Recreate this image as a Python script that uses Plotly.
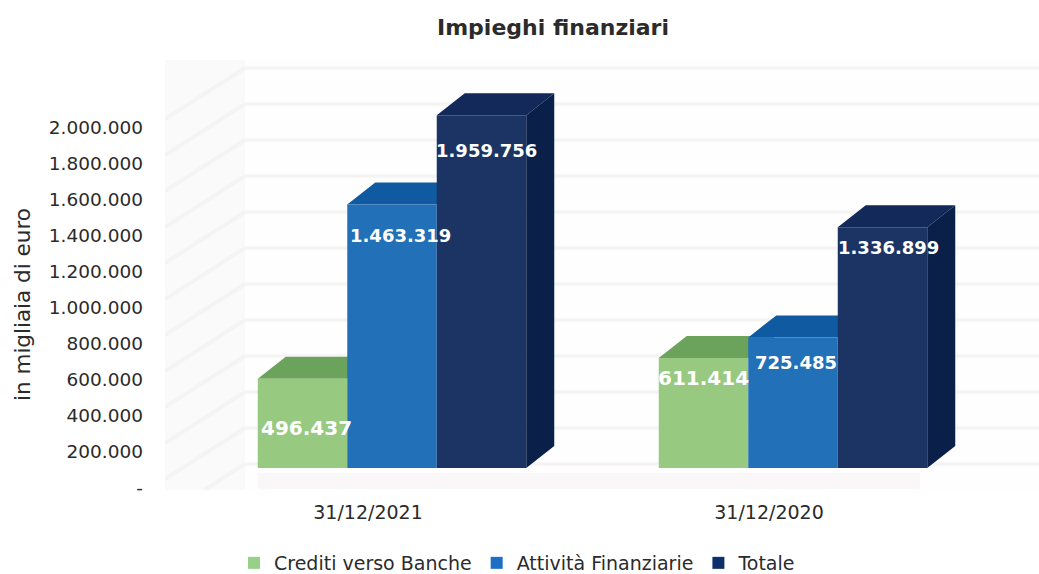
import plotly.graph_objects as go

# ---- data ----
CATEGORIES = ["31/12/2021", "31/12/2020"]
SERIES_NAMES = ["Crediti verso Banche", "Attività Finanziarie", "Totale"]
CREDITI = [496437, 611414]
ATTIVITA = [1463319, 725485]
TOTALE = [1959756, 1336899]
TICK_VALUES = [0, 200000, 400000, 600000, 800000, 1000000, 1200000,
               1400000, 1600000, 1800000, 2000000]
TICK_LABELS = ["-", "200.000", "400.000", "600.000", "800.000", "1.000.000",
               "1.200.000", "1.400.000", "1.600.000", "1.800.000", "2.000.000"]
WALL_VALUES = TICK_VALUES + [2200000]
Y_TITLE = "in migliaia di euro"

# ---- styles ----
FRONT = ["#97c981", "#2270b8", "#1c3464"]
TOP = ["#6ca35c", "#0f5aa0", "#12295a"]
SIDE = "#0b2048"
LEGEND = ["#97d088", "#1c6fc4", "#0d2f6b"]
TEXT = "#2b2b2b"
FONT = "DejaVu Sans"

FIG_W, FIG_H = 1039, 574
# pixel scale of the plot area, used to express the fake-3D depth
PLOT_L, PLOT_R, PLOT_T, PLOT_B = 165, 1039, 60, 490
ZERO_PX = 488
PX_PER_UNIT_X = 401.0
PX_PER_UNIT_Y = 18.0 / 100000
X_ZERO_PX = 368.0
BAR_W = 89.5 / PX_PER_UNIT_X
GROUP_SHIFT = 24 / PX_PER_UNIT_X
DEPTH_X = 28 / PX_PER_UNIT_X
DEPTH_Y = 22 / PX_PER_UNIT_Y
WALL_DY = 24 / PX_PER_UNIT_Y
BASE = 20 / PX_PER_UNIT_Y
FLOOR_Y = 7 / PX_PER_UNIT_Y
WALL_X = (245 - X_ZERO_PX) / PX_PER_UNIT_X
LEFT_X = (PLOT_L - X_ZERO_PX) / PX_PER_UNIT_X
RIGHT_X = (PLOT_R - X_ZERO_PX) / PX_PER_UNIT_X
Y_BOTTOM = (ZERO_PX - PLOT_B) / PX_PER_UNIT_Y
Y_TOP = (ZERO_PX - PLOT_T) / PX_PER_UNIT_Y
# label nudges in px, [series][category]: (dx, drop below bar top)
LABEL_NUDGE = [[(4, 49), (0, 20)], [(8, 31), (3, 25)], [(5, 35), (6, 20)]]
LABEL_SIZE = [20, 18, 18]

fig = go.Figure()

# floor and back wall
GRID = "#f6f3f3"
floor_x = [LEFT_X + 93 / PX_PER_UNIT_X, RIGHT_X - 119 / PX_PER_UNIT_X]
fig.add_trace(go.Scatter(x=[WALL_X, RIGHT_X, RIGHT_X, WALL_X, WALL_X],
                         y=[Y_TOP, Y_TOP, Y_BOTTOM, Y_BOTTOM, Y_TOP],
                         mode="lines", fill="toself", fillcolor="#fefefe",
                         line=dict(width=0), showlegend=False, hoverinfo="skip", zorder=0))
wx, wy = [], []
dx, dy = [], []
slope = 51 / PX_PER_UNIT_Y
for v in WALL_VALUES:
    back = v + WALL_DY
    wx += [WALL_X, RIGHT_X, None]
    wy += [back, back, None]
    front = max(back - slope, Y_BOTTOM)
    frac = (back - front) / slope
    dx += [WALL_X - (WALL_X - LEFT_X) * frac, WALL_X, None]
    dy += [front, back, None]
fig.add_trace(go.Scatter(x=wx, y=wy, mode="lines", line=dict(color=GRID, width=3.5),
                         showlegend=False, hoverinfo="skip", zorder=0))
fig.add_trace(go.Scatter(x=dx, y=dy, mode="lines", line=dict(color="#f5f3f3", width=4),
                         showlegend=False, hoverinfo="skip", zorder=0))
fig.add_trace(go.Scatter(x=floor_x, y=[FLOOR_Y, FLOOR_Y], mode="lines",
                         line=dict(color="#f9f7f7", width=16),
                         showlegend=False, hoverinfo="skip", zorder=0))

series = [CREDITI, ATTIVITA, TOTALE]
annotations = []
for s, values in enumerate(series):
    centers = [i + GROUP_SHIFT + (s - 1) * BAR_W for i in range(len(CATEGORIES))]
    # top face
    tx, ty = [], []
    for c, v in zip(centers, values):
        l, r = c - BAR_W / 2, c + BAR_W / 2
        t = v + BASE
        tx += [l, r, r + DEPTH_X, l + DEPTH_X, l, None]
        ty += [t, t, t + DEPTH_Y, t + DEPTH_Y, t, None]
    fig.add_trace(go.Scatter(x=tx, y=ty, mode="lines", fill="toself", fillcolor=TOP[s],
                             line=dict(width=0), showlegend=False, hoverinfo="skip",
                             zorder=1 + 2 * s))
    # side face, only the rear series shows it
    if s == 2:
        sx, sy = [], []
        for c, v in zip(centers, values):
            r = c + BAR_W / 2
            t = v + BASE
            sx += [r, r + DEPTH_X, r + DEPTH_X, r, r, None]
            sy += [BASE, BASE + DEPTH_Y, t + DEPTH_Y, t, BASE, None]
        fig.add_trace(go.Scatter(x=sx, y=sy, mode="lines", fill="toself", fillcolor=SIDE,
                                 line=dict(width=0), showlegend=False, hoverinfo="skip",
                                 zorder=1 + 2 * s))
    # front face
    fig.add_trace(go.Bar(x=centers, y=values, base=BASE, width=BAR_W, name=SERIES_NAMES[s],
                         marker=dict(color=FRONT[s], line=dict(width=0)),
                         showlegend=False, zorder=2 + 2 * s))
    # legend entry
    fig.add_trace(go.Bar(x=[None], y=[None], name=SERIES_NAMES[s],
                         marker=dict(color=LEGEND[s], line=dict(width=0))))
    for i, (c, v) in enumerate(zip(centers, values)):
        ox, drop = LABEL_NUDGE[s][i]
        annotations.append(dict(x=c, y=v + BASE, xshift=ox, yshift=-drop, showarrow=False,
                                text=f"{v:,}".replace(",", "."), yanchor="middle",
                                font=dict(family=FONT, size=LABEL_SIZE[s], color="white", weight="bold")))

# axis title, set low against the plot as in the reference
annotations.append(dict(text=Y_TITLE, textangle=-90, showarrow=False, xref="paper", yref="paper",
                        x=(22 - PLOT_L) / (PLOT_R - PLOT_L), xanchor="center",
                        y=(PLOT_B - 305) / (PLOT_B - PLOT_T), yanchor="middle",
                        font=dict(family=FONT, size=21.5, color=TEXT)))

fig.update_layout(
    width=FIG_W, height=FIG_H,
    margin=dict(l=PLOT_L, r=FIG_W - PLOT_R, t=PLOT_T, b=FIG_H - PLOT_B, autoexpand=False),
    paper_bgcolor="white", plot_bgcolor="#fafafa",
    barmode="overlay",
    font=dict(family=FONT, color=TEXT),
    title=dict(text="<b>Impieghi finanziari</b>", x=553 / FIG_W, xanchor="center",
               y=1 - 27 / FIG_H, yanchor="middle", font=dict(family=FONT, size=22, color=TEXT)),
    xaxis=dict(range=[LEFT_X, RIGHT_X], tickvals=list(range(len(CATEGORIES))), ticktext=CATEGORIES,
               showgrid=False, zeroline=False, showline=False, ticks="", ticklabelstandoff=9,
               tickfont=dict(size=19, color=TEXT)),
    yaxis=dict(range=[Y_BOTTOM, Y_TOP], tickvals=TICK_VALUES, ticktext=TICK_LABELS,
               showgrid=False, zeroline=False, showline=False, ticks="", ticklabelstandoff=21,
               tickfont=dict(size=18.5, color=TEXT)),
    legend=dict(orientation="h", x=(234 - PLOT_L) / (PLOT_R - PLOT_L), xanchor="left",
                y=(PLOT_B - 544) / (PLOT_B - PLOT_T), yanchor="top",
                font=dict(size=19, color=TEXT), bgcolor="rgba(0,0,0,0)",
                itemclick=False, itemdoubleclick=False),
    annotations=annotations,
)

fig.write_html("out.html", config=dict(displayModeBar=False),
               default_width=f"{FIG_W}px", default_height=f"{FIG_H}px",
               post_script="document.body.style.margin='0';document.body.style.overflow='hidden';")
